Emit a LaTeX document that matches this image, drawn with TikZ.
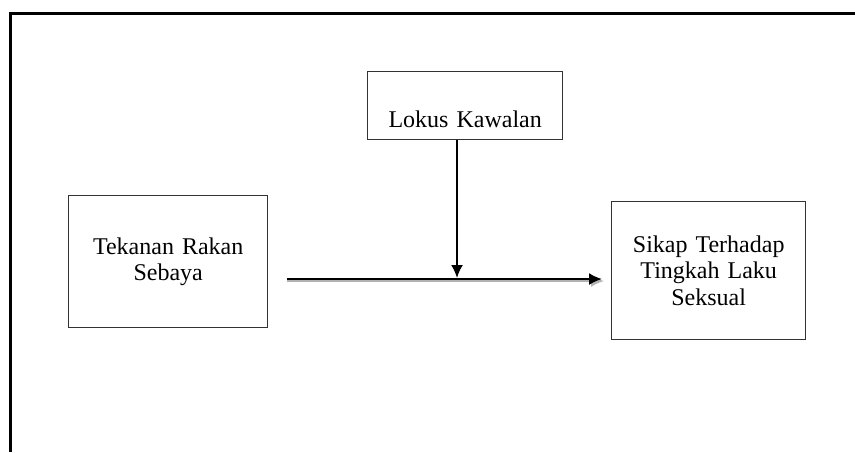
\documentclass[tikz,border=0pt]{standalone}
\usepackage{fontspec}
\setmainfont{Liberation Serif}
\usetikzlibrary{arrows.meta}

\tikzset{
  blok/.style={draw=black!80, line width=0.7pt, inner xsep=0pt,
    align=center, font=\fontsize{12}{13.4}\selectfont},
  panah/.style={line width=1pt, -{Latex[length=6.5pt,width=6pt]}},
  bayang/.style={black!30, line width=1pt, -{Latex[length=6.5pt,width=6pt]}}
}

\begin{document}
\begin{tikzpicture}[x=0.5pt, y=-0.5pt]
  \useasboundingbox (0, 0) rectangle (855, 452);

  % Frame
  \draw [line width=1.5pt] (855, 13) -- (10.7, 13) -- (10.7, 452);

  % Lokus Kawalan
  \node [blok, anchor=north west, text width=97.5pt, text height=26.5pt,
    text depth=4.5pt, inner ysep=1.5pt] (lokus) at (367, 71) {Lokus Kawalan};

  % Tekanan Rakan Sebaya
  \node [blok, anchor=north west, text width=99.5pt, minimum height=66pt]
    (tekanan) at (68, 195) {Tekanan Rakan\\Sebaya};

  % Sikap Terhadap Tingkah Laku Seksual
  \node [blok, anchor=north west, text width=97pt, minimum height=69pt]
    (sikap) at (611, 201) {Sikap Terhadap\\Tingkah Laku\\Seksual};

  % Edges
  \coordinate (hmula) at (287, 279);
  \coordinate (hakhir) at (602, 279);
  \coordinate (vtemu) at (457, 278);
  \draw [bayang] ([yshift=-1pt]hmula) -- ([xshift=1pt, yshift=-1pt]hakhir);
  \draw [panah] (hmula) -- (hakhir);
  \draw [panah] (lokus.south -| vtemu) -- (vtemu);
\end{tikzpicture}
\end{document}
